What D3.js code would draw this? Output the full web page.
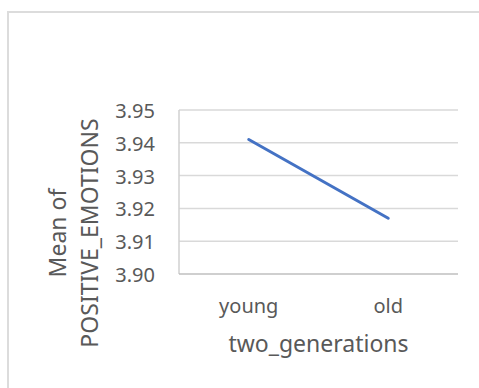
<!DOCTYPE html>
<html>
<head>
<meta charset="utf-8">
<script src="https://cdn.jsdelivr.net/npm/d3@7/dist/d3.min.js"></script>
<style>
  html, body { margin: 0; padding: 0; background: #ffffff; }
  svg { display: block; }
  text { font-family: "Noto Sans", "Open Sans", sans-serif; fill: #595959; }
</style>
</head>
<body>
<svg id="chart" width="479" height="388"></svg>
<script>
// Mean of POSITIVE_EMOTIONS by generation
const categories = ["young", "old"];
const meanValues = [3.941, 3.917];
const yTicks = [3.90, 3.91, 3.92, 3.93, 3.94, 3.95];
const xTitle = "two_generations";
const yTitleLines = ["Mean of", "POSITIVE_EMOTIONS"];

const W = 479, H = 388;
const plot = { left: 179, right: 458, top: 110, bottom: 274 };
const tickFont = "20px", titleFont = "23px";

const svg = d3.select("#chart");

// chart frame
svg.append("path")
  .attr("d", `M8,${H} V12 H${W}`)
  .attr("fill", "none")
  .attr("stroke", "#dcdcdc")
  .attr("stroke-width", 2);

const x = d3.scaleBand().domain(categories).range([plot.left, plot.right]);
const y = d3.scaleLinear().domain([3.90, 3.95]).range([plot.bottom, plot.top]);

// horizontal gridlines
svg.append("g")
  .selectAll("line")
  .data(yTicks.filter(t => t > 3.90))
  .join("line")
  .attr("x1", plot.left).attr("x2", plot.right)
  .attr("y1", d => y(d)).attr("y2", d => y(d))
  .attr("stroke", "#d9d9d9").attr("stroke-width", 1.5);

// value axis line
svg.append("line")
  .attr("x1", plot.left).attr("x2", plot.left)
  .attr("y1", plot.top).attr("y2", plot.bottom)
  .attr("stroke", "#d0d0d0").attr("stroke-width", 1.5);

// category axis line
svg.append("line")
  .attr("x1", plot.left).attr("x2", plot.right)
  .attr("y1", plot.bottom).attr("y2", plot.bottom)
  .attr("stroke", "#bfbfbf").attr("stroke-width", 1.5);

// y tick labels
svg.append("g")
  .selectAll("text")
  .data(yTicks)
  .join("text")
  .attr("x", 155)
  .attr("y", d => y(d) + 8)
  .attr("text-anchor", "end")
  .style("font-size", tickFont)
  .text(d => d3.format(".2f")(d));

// x tick labels
svg.append("g")
  .selectAll("text")
  .data(categories)
  .join("text")
  .attr("x", d => x(d) + x.bandwidth() / 2)
  .attr("y", 313)
  .attr("text-anchor", "middle")
  .style("font-size", tickFont)
  .text(d => d);

// x axis title
svg.append("text")
  .attr("x", (plot.left + plot.right) / 2)
  .attr("y", 352)
  .attr("text-anchor", "middle")
  .style("font-size", titleFont)
  .text(xTitle);

// y axis title (two lines, rotated)
const yTitle = svg.append("text")
  .attr("transform", "translate(0,233) rotate(-90)")
  .attr("text-anchor", "middle")
  .style("font-size", titleFont);
yTitle.selectAll("tspan")
  .data(yTitleLines)
  .join("tspan")
  .attr("x", 0)
  .attr("y", (d, i) => i === 0 ? 65.5 : 98)
  .text(d => d);

// the mean line
const line = d3.line()
  .x((d, i) => x(categories[i]) + x.bandwidth() / 2)
  .y(d => y(d));

svg.append("path")
  .datum(meanValues)
  .attr("d", line)
  .attr("fill", "none")
  .attr("stroke", "#4472c4")
  .attr("stroke-width", 3)
  .attr("stroke-linecap", "round");
</script>
</body>
</html>
